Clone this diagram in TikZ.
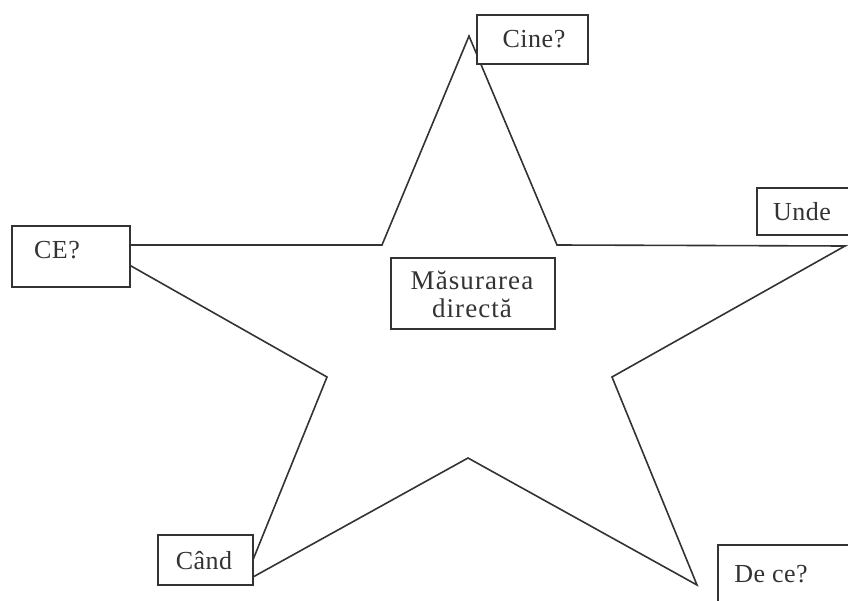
\documentclass[tikz,border=0pt]{standalone}
\usepackage{fontspec}
\setmainfont{Liberation Serif}
\begin{document}
\begin{tikzpicture}[x=1pt,y=-1pt,
  line join=miter,
  outline/.style={draw=black!80,line width=1.6pt},
  label box/.style={outline,fill=white,inner sep=0pt,anchor=north west},
  label text/.style={font=\fontsize{26}{26}\selectfont\addfontfeature{LetterSpace=2},text=black!80,inner sep=0pt},
]
\useasboundingbox (0,0) rectangle (848,601);
\clip (0,0) rectangle (848,601);

% star outline
\coordinate (p1) at (469,36);
\coordinate (q1) at (557,245);
\coordinate (p2) at (845,246);
\coordinate (q2) at (612,377);
\coordinate (p3) at (697,585);
\coordinate (q3) at (468,458);
\coordinate (p4) at (244,582);
\coordinate (q4) at (327,377);
\coordinate (p5) at (94,245);
\coordinate (q5) at (382,245);
\draw[outline] (p1) -- (q1) -- (p2) -- (q2) -- (p3) -- (q3) -- (p4) -- (q4) -- (p5) -- (q5) -- cycle;

% question boxes
\node[label box,minimum width=111pt,minimum height=49pt] (cine) at (476,14) {};
\node[label text] (cinet) at (534,39) {Cine?};

\node[label box,minimum width=118pt,minimum height=61pt] (ce) at (11,225) {};
\node[label text] (cet) at (57,250) {CE?};

\node[label box,minimum width=94pt,minimum height=47pt] (unde) at (756,187) {};
\node[label text] (undet) at (802,212) {Unde};

\node[label box,minimum width=95pt,minimum height=50pt] (cand) at (157,534) {};
\node[label text] (candt) at (204,561) {Când};

\node[label box,minimum width=140pt,minimum height=80pt] (dece) at (717,544) {};
\node[label text] (decet) at (771,574) {De ce?};

% centre box
\node[label box,minimum width=164pt,minimum height=71pt] (mid) at (390,257) {};
\node[align=center,font=\fontsize{27}{28}\selectfont\addfontfeature{LetterSpace=4},text=black!80,inner sep=0pt] (midt) at (472,294) {Măsurarea\\directă};
\end{tikzpicture}
\end{document}
